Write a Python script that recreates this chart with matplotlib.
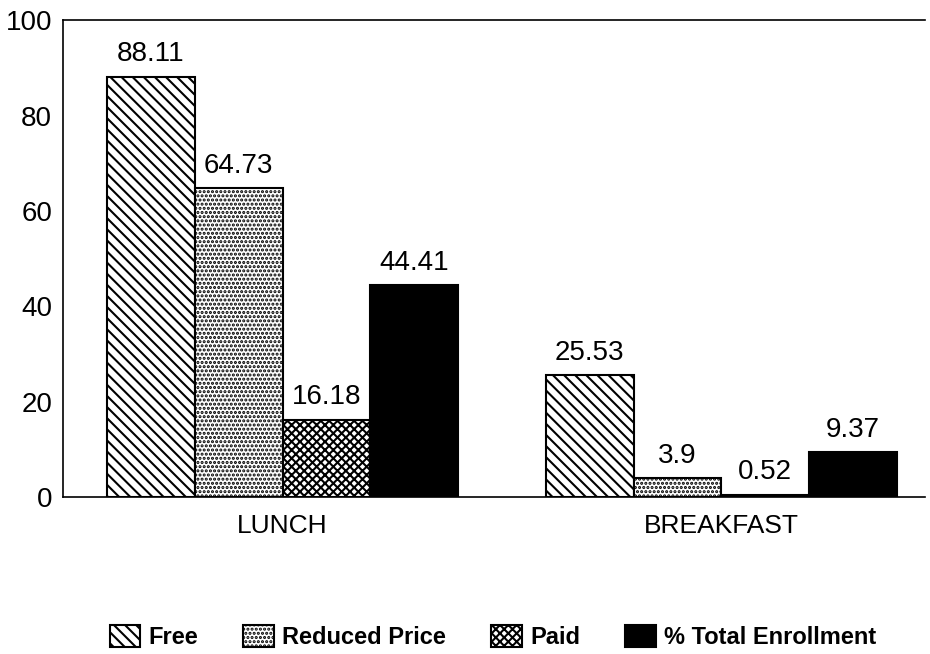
import matplotlib
matplotlib.use('Agg')
import matplotlib.pyplot as plt
import numpy as np

# data
groups = ['LUNCH', 'BREAKFAST']
series = ['Free', 'Reduced Price', 'Paid', '% Total Enrollment']
free = [88.11, 25.53]
reduced = [64.73, 3.9]
paid = [16.18, 0.52]
total = [44.41, 9.37]
value_labels = [['88.11', '25.53'], ['64.73', '3.9'], ['16.18', '0.52'], ['44.41', '9.37']]
yticks = [0, 20, 40, 60, 80, 100]

plt.rcParams['font.family'] = ['Liberation Sans', 'DejaVu Sans']
plt.rcParams['hatch.linewidth'] = 1.5

fig = plt.figure(figsize=(9.3, 6.54), dpi=100)
ax = fig.add_axes([0.068, 0.24, 0.927, 0.729])

x = np.arange(len(groups))
w = 0.2
styles = [
    dict(facecolor='white', hatch='\\\\\\'),
    dict(facecolor='white', hatch='....'),
    dict(facecolor='white', hatch='xxxx'),
    dict(facecolor='black', hatch=None),
]
handles = []
for i, (vals, st) in enumerate(zip([free, reduced, paid, total], styles)):
    pos = x + (i - 1.5) * w
    bars = ax.bar(pos, vals, w, edgecolor='black', linewidth=1.5, label=series[i], **st)
    handles.append(bars)
    for p, v, lab in zip(pos, vals, value_labels[i]):
        ax.text(p, v + 2.0, lab, ha='center', va='bottom', fontsize=20)

ax.set_xlim(-0.5, 1.465)
ax.set_ylim(0, 100)
ax.set_yticks(yticks)
ax.set_yticklabels([str(t) for t in yticks], fontsize=20)
ax.set_xticks(x)
ax.set_xticklabels(groups, fontsize=19)
ax.tick_params(axis='both', length=0, pad=8)
ax.tick_params(axis='x', pad=12)
for s in ['top', 'left', 'bottom']:
    ax.spines[s].set_linestyle((0, (8, 1)))
    ax.spines[s].set_linewidth(1.2)
ax.spines['right'].set_visible(False)

fig.legend(handles=handles, labels=series, loc='center', bbox_to_anchor=(0.53, 0.026),
           ncol=4, frameon=False, handlelength=1.3, handleheight=1.1,
           columnspacing=1.9, handletextpad=0.35, prop={'weight': 'bold', 'size': 17})

fig.savefig('out.png', dpi=100)
